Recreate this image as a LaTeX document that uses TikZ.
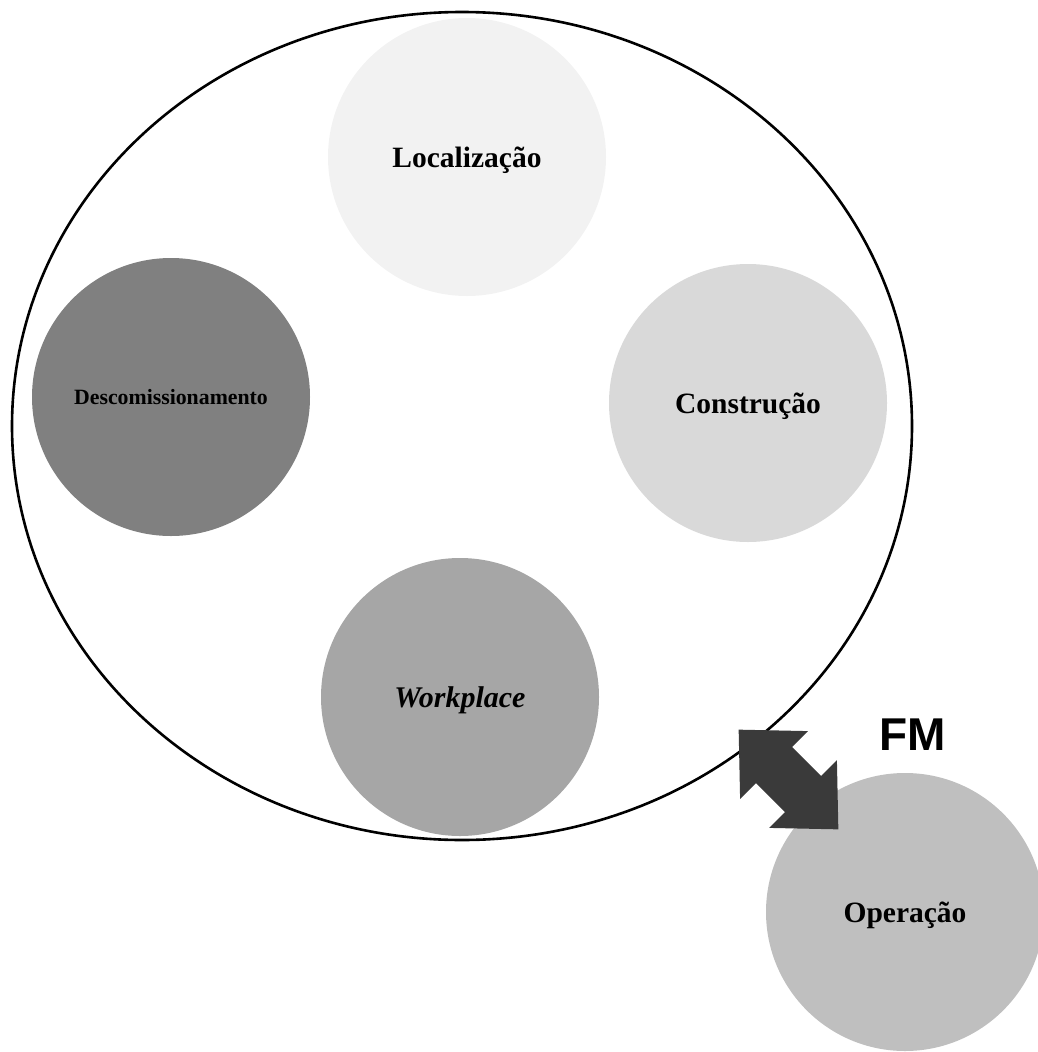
\documentclass[tikz,border=0pt]{standalone}
\usepackage{fontspec}
\setmainfont{Liberation Serif}
\newfontfamily\fmfont{Liberation Sans}
\usetikzlibrary{shapes.geometric}
\definecolor{cLoc}{HTML}{F2F2F2}
\definecolor{cCon}{HTML}{D9D9D9}
\definecolor{cDes}{HTML}{808080}
\definecolor{cWork}{HTML}{A6A6A6}
\definecolor{cOpe}{HTML}{BFBFBF}
\definecolor{cArr}{HTML}{3A3A3A}
\tikzset{
  phase/.style={circle, inner sep=0pt, minimum size=278pt, draw=none, text=black,
    text depth=0pt, font=\fontsize{29.5}{32}\selectfont\bfseries},
}
\begin{document}
\begin{tikzpicture}[x=1pt,y=-1pt]
\useasboundingbox (0,0) rectangle (1038,1052);
\node[ellipse, draw=black, line width=2.6pt, inner sep=0pt,
      minimum width=900pt, minimum height=828pt] (cycle) at (462,426) {};
\node[phase, fill=cLoc] (loc) at (467,157) {Localização};
\node[phase, fill=cCon] (con) at (748,403) {Construção};
\node[phase, fill=cDes, font=\fontsize{21.8}{24}\selectfont\bfseries] (des) at (171,397) {Descomissionamento};
\node[phase, fill=cWork, font=\fontsize{30}{32}\selectfont\bfseries\itshape] (work) at (460,697) {Workplace};
\node[phase, fill=cOpe] (ope) at (905,912) {Operação};
\node[font=\fmfont\fontsize{46}{48}\selectfont\bfseries] (fm) at (913,735) {FM};
\fill[cArr] (738.65,729.65) -- (807.9,731.1) -- (792.0,747.0) -- (821.0,776.0)
  -- (836.9,760.1) -- (838.35,829.35) -- (769.1,827.9) -- (785.0,812.0)
  -- (756.0,783.0) -- (740.1,798.9) -- cycle;
\end{tikzpicture}
\end{document}
